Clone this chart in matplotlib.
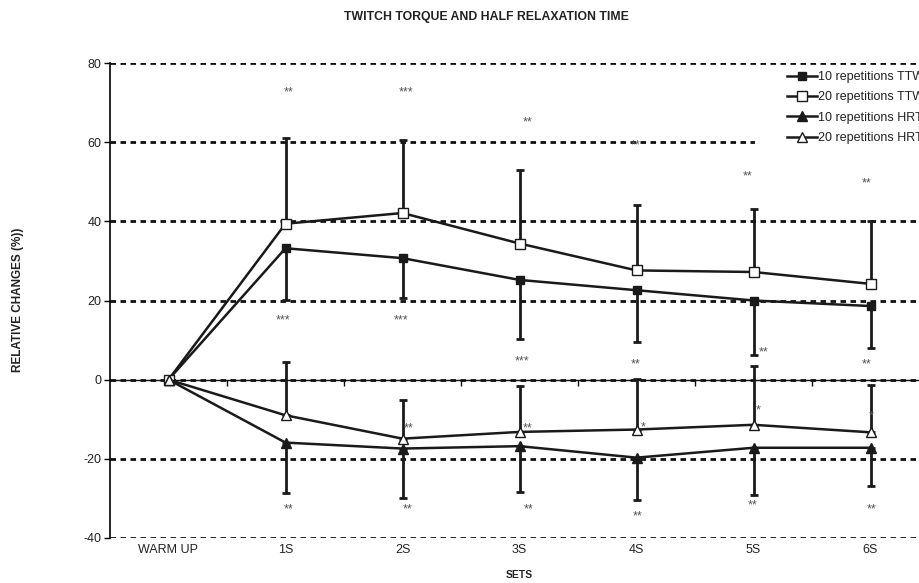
import matplotlib
matplotlib.use("Agg")
import matplotlib.pyplot as plt
from matplotlib.patches import Rectangle

plt.rcParams["font.family"] = ["Liberation Sans", "DejaVu Sans"]
plt.rcParams["axes.unicode_minus"] = False

# categories and series (relative change, %)
sets = ["WARM UP", "1S", "2S", "3S", "4S", "5S", "6S"]
ttw_10 = [0, 33.2, 30.7, 25.2, 22.6, 20.0, 18.6]
ttw_10_err = [0, 13.1, 10.0, 14.9, 13.2, 13.8, 10.6]      # drawn downward
ttw_20 = [0, 39.4, 42.1, 34.4, 27.6, 27.2, 24.2]
ttw_20_err = [0, 21.7, 18.5, 18.6, 16.6, 15.8, 15.8]      # drawn upward
hrt_10 = [0, -15.9, -17.4, -16.8, -19.7, -17.2, -17.2]
hrt_10_err = [0, 12.8, 12.5, 11.7, 10.6, 11.9, 9.7]       # drawn downward
hrt_20 = [0, -9.0, -14.9, -13.2, -12.6, -11.4, -13.3]
hrt_20_err = [0, 13.4, 9.8, 11.5, 12.8, 14.9, 12.0]       # drawn upward

# significance marks (label, x position in category units, y value)
sig_labels = ["**", "***", "**", "**", "**", "**",
              "***", "***", "***", "**", "**", "**",
              "**", "**", "*", "*", "*",
              "**", "**", "**", "**", "**", "**"]
sig_x = [1.03, 2.03, 3.07, 3.99, 4.95, 5.97,
         0.98, 1.99, 3.02, 3.99, 5.09, 5.97,
         2.05, 3.07, 4.06, 5.04, 6.01,
         1.03, 2.04, 3.08, 4.01, 4.99, 6.01]
sig_y = [73.5, 73.5, 65.9, 60.1, 52.1, 50.5,
         15.9, 15.9, 5.6, 4.8, 7.8, 4.8,
         -11.4, -11.4, -11.1, -6.8, -8.3,
         -31.8, -31.8, -31.8, -33.8, -31.0, -32.0]

fig = plt.figure(figsize=(9.19, 5.83), dpi=100)
ax = fig.add_axes([110 / 919, 45 / 583, 819 / 919, 475 / 583])

x = list(range(len(sets)))
lw = 1.8
ebkw = dict(color="#1a1a1a", elinewidth=2.0, capsize=3, capthick=2.0, ls="none", zorder=3)

ax.errorbar(x, ttw_10, yerr=[ttw_10_err, [0] * 7], **ebkw)
ax.errorbar(x, ttw_20, yerr=[[0] * 7, ttw_20_err], **ebkw)
ax.errorbar(x, hrt_10, yerr=[hrt_10_err, [0] * 7], **ebkw)
ax.errorbar(x, hrt_20, yerr=[[0] * 7, hrt_20_err], **ebkw)

ax.plot(x, ttw_10, color="#1a1a1a", lw=lw, marker="s", ms=6, mfc="#1a1a1a",
        mec="#1a1a1a", label="10 repetitions TTW", zorder=4)
ax.plot(x, ttw_20, color="#1a1a1a", lw=lw, marker="s", ms=6.5, mfc="white",
        mec="#1a1a1a", mew=1.0, label="20 repetitions TTW", zorder=4)
ax.plot(x, hrt_10, color="#1a1a1a", lw=lw, marker="^", ms=7.5, mfc="#1a1a1a",
        mec="#1a1a1a", label="10 repetitions HRT", zorder=4)
ax.plot(x, hrt_20, color="#1a1a1a", lw=lw, marker="^", ms=7.5, mfc="white",
        mec="#1a1a1a", mew=1.0, label="20 repetitions HRT", zorder=4)

for lab, sx, sy in zip(sig_labels, sig_x, sig_y):
    ax.annotate(lab, (sx, sy), xytext=(0, -2.5), textcoords="offset points",
                ha="center", va="center", fontsize=9, color="#555555", zorder=5)

ax.set_xlim(-0.5, 6.5)
ax.set_ylim(-40, 80)
ax.set_yticks([-40, -20, 0, 20, 40, 60, 80])
ax.set_xticks(x)
ax.set_xticklabels(sets, fontsize=9, color="#222222")
ax.tick_params(axis="x", length=0, pad=4)
ax.tick_params(axis="y", length=4, width=1, direction="out", labelsize=9,
               labelcolor="#222222", pad=2)
ax.yaxis.grid(True, color="#111111", ls=(0, (2, 1.6)), lw=2.0)
ax.set_axisbelow(True)
for s in ["top", "right", "bottom"]:
    ax.spines[s].set_visible(False)
ax.spines["left"].set_linewidth(1.2)

# zero line with category separator ticks
ax.axhline(0, color="#111111", lw=1.0, zorder=2)
sec = ax.secondary_xaxis(1 / 3)
sec.set_xticks([i + 0.5 for i in range(len(sets) - 1)])
sec.set_xticklabels([])
sec.tick_params(length=4, width=1, direction="out", color="#111111")
sec.spines["bottom"].set_visible(False)
sec.spines["top"].set_visible(False)

fig.text(519 / 919, 1 - 575 / 583, "SETS", ha="center", va="center",
         fontsize=7.5, fontweight="bold", color="#222222")
fig.text(18 / 919, 1 - 300 / 583, "RELATIVE CHANGES (%))", rotation=90, ha="center",
         va="center", fontsize=8.5, fontweight="bold", color="#222222")
fig.text(486 / 919, 1 - 17 / 583, "TWITCH TORQUE AND HALF RELAXATION TIME", ha="center",
         va="center", fontsize=8.8, fontweight="bold", color="#222222")

# white legend background
fig.patches.append(Rectangle((755 / 919, 1 - 150 / 583), 170 / 919, 82 / 583,
                             transform=fig.transFigure, facecolor="white",
                             edgecolor="none", zorder=1))
leg = fig.legend(loc="upper left", bbox_to_anchor=(787 / 919, 1 - 71 / 583), frameon=False,
                 fontsize=9, handlelength=2.4, handletextpad=0.1, labelspacing=0.67,
                 borderpad=0.0, borderaxespad=0.0)
for t in leg.get_texts():
    t.set_color("#222222")

fig.savefig("out.png", dpi=100)
